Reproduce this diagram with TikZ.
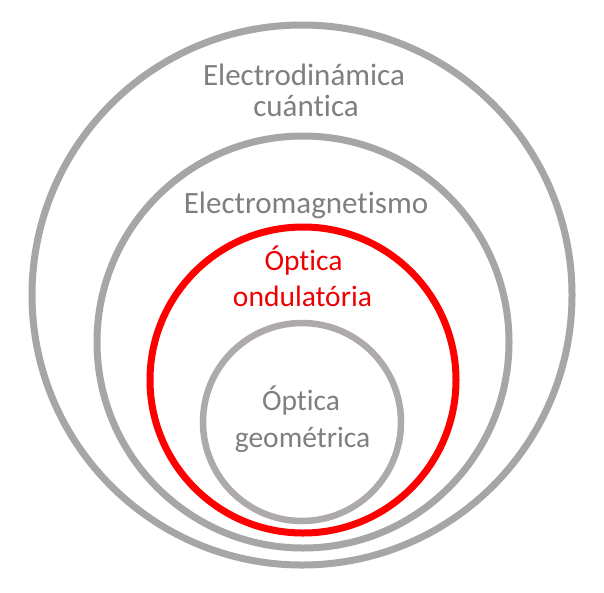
\documentclass[tikz,border=0pt]{standalone}
\usepackage{fontspec}
\setmainfont{Carlito}[Ligatures={NoCommon}]
\definecolor{ringgray}{HTML}{A6A6A6}
\definecolor{innergray}{HTML}{AEAAAA}
\definecolor{txtgray}{HTML}{7F7F7F}
\definecolor{ringred}{HTML}{FF0000}
\definecolor{txtred}{HTML}{EE0000}
\begin{document}
\begin{tikzpicture}[x=1pt,y=-1pt,
  ring/.style={line width=7pt, draw=ringgray},
  graylbl/.style={anchor=base, inner sep=0pt, text=txtgray, font=\fontsize{31}{31}\selectfont},
  redlbl/.style={anchor=base, inner sep=0pt, text=txtred, font=\fontsize{29.5}{29.5}\selectfont},
  innerlbl/.style={anchor=base, inner sep=0pt, text=txtgray, font=\fontsize{29.5}{29.5}\selectfont}]
\useasboundingbox[fill=white] (0,0) rectangle (604,592);
% rings
\draw[ring] (302,295) circle[radius=270pt];
\draw[ring] (303,342) circle[radius=206pt];
\draw[line width=7pt, draw=ringred] (303,380) circle[radius=153pt];
\draw[line width=6.5pt, draw=innergray] (302,422) circle[radius=99pt];
% labels
\node[graylbl] (qed1) at (304,85) {Electrodinámica};
\node[graylbl] (qed2) at (306,116.5) {cuántica};
\node[graylbl] (em) at (306,213) {Electromagnetismo};
\node[redlbl] (ow1) at (303.5,270.5) {Óptica};
\node[redlbl] (ow2) at (302.5,306) {ondulatória};
\node[innerlbl] (og1) at (301,410) {Óptica};
\node[innerlbl] (og2) at (302.5,447) {geométrica};
\end{tikzpicture}
\end{document}
